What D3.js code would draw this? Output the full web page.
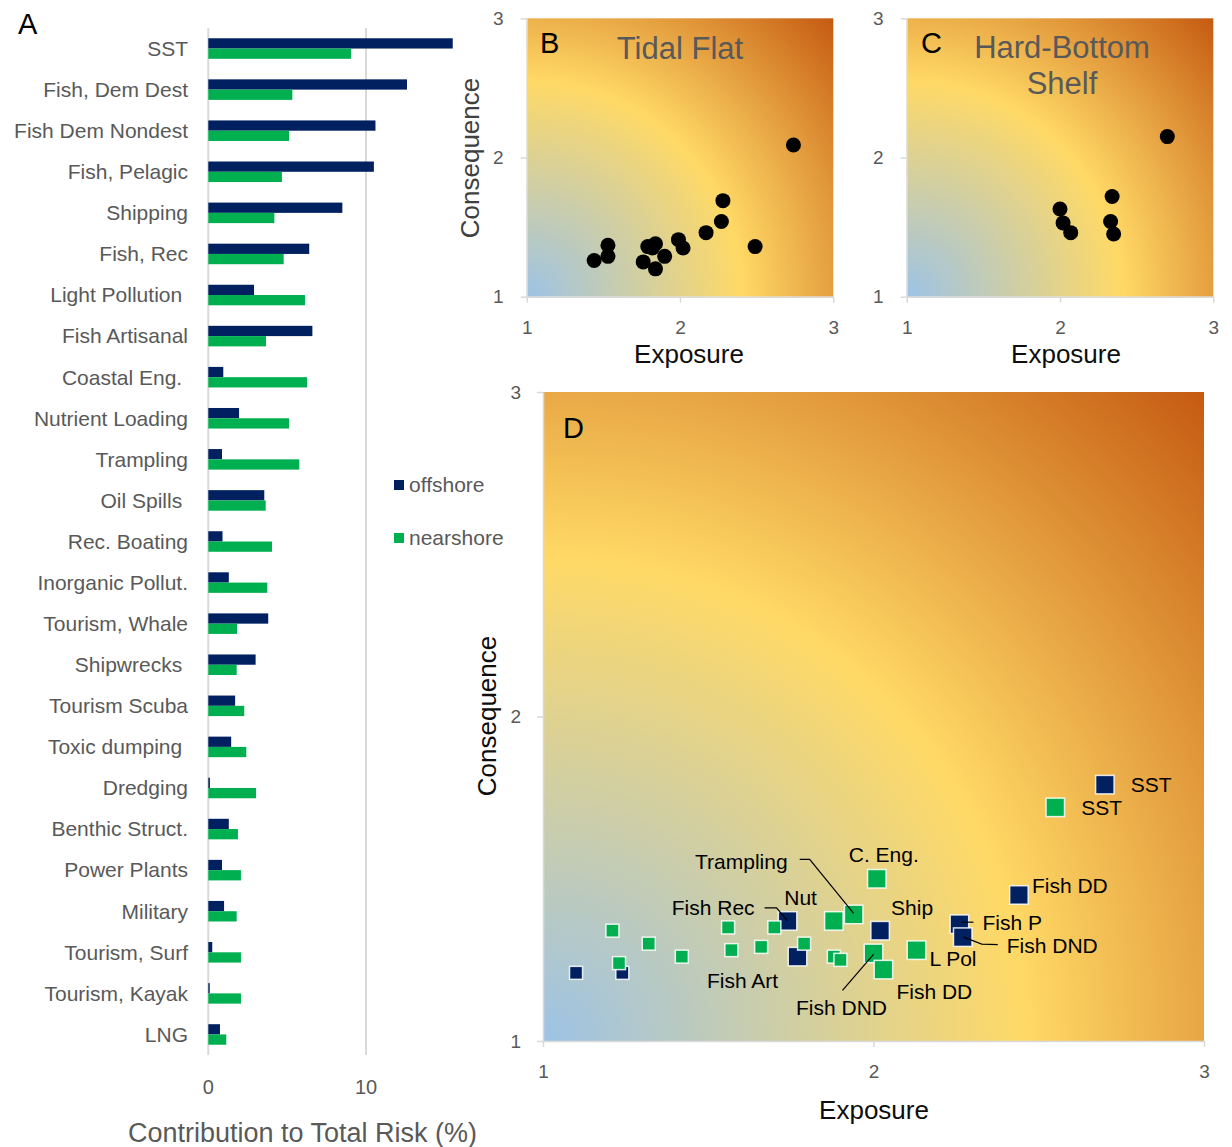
<!DOCTYPE html>
<html>
<head>
<meta charset="utf-8">
<script src="https://cdn.jsdelivr.net/npm/d3@7"></script>
<style>
  body { margin: 0; background: #fff; }
  text { font-family: "Liberation Sans", Arial, sans-serif; }
</style>
</head>
<body>
<div id="app"></div>
<script>
/* globals d3 */
// DATA
// panel A: contribution to total risk (%)
const categories = [
  'SST', 'Fish, Dem Dest', 'Fish Dem Nondest', 'Fish, Pelagic', 'Shipping',
  'Fish, Rec', 'Light Pollution ', 'Fish Artisanal', 'Coastal Eng. ', 'Nutrient Loading',
  'Trampling', 'Oil Spills ', 'Rec. Boating', 'Inorganic Pollut.', 'Tourism, Whale',
  'Shipwrecks ', 'Tourism Scuba', 'Toxic dumping ', 'Dredging', 'Benthic Struct.',
  'Power Plants', 'Military', 'Tourism, Surf', 'Tourism, Kayak', 'LNG'
];
const offshore = [
  15.5, 12.6, 10.6, 10.5, 8.5,
  6.4, 2.9, 6.6, 0.95, 1.95,
  0.87, 3.55, 0.9, 1.3, 3.8,
  3.0, 1.7, 1.45, 0.1, 1.3,
  0.87, 1.0, 0.25, 0.09, 0.74
];
const nearshore = [
  9.05, 5.33, 5.12, 4.67, 4.19,
  4.78, 6.13, 3.66, 6.26, 5.12,
  5.77, 3.64, 4.04, 3.74, 1.82,
  1.80, 2.28, 2.41, 3.03, 1.88,
  2.07, 1.80, 2.07, 2.07, 1.14
];
const seriesNames = ['offshore', 'nearshore'];
const riskTicks = [0, 10];

// panel B: tidal flat
const tidalExposure    = [2.74, 2.28, 2.27, 2.17, 2.49, 1.99, 2.02, 1.90, 1.84, 1.76, 1.79, 1.84, 1.82, 1.53, 1.53, 1.44];
const tidalConsequence = [2.09, 1.69, 1.54, 1.46, 1.36, 1.41, 1.35, 1.29, 1.20, 1.25, 1.36, 1.38, 1.35, 1.37, 1.29, 1.26];

// panel C: hard-bottom shelf
const shelfExposure    = [2.70, 2.34, 2.33, 2.35, 2.00, 2.02, 2.07];
const shelfConsequence = [2.15, 1.72, 1.54, 1.45, 1.63, 1.53, 1.46];

// panel D: offshore vs nearshore stressors
const dOffExposure     = [2.70, 2.44, 2.26, 2.27, 2.02, 1.74, 1.77, 1.10, 1.24];
const dOffConsequence  = [1.79, 1.45, 1.36, 1.32, 1.34, 1.37, 1.26, 1.21, 1.21];
const dNearExposure    = [2.55, 2.01, 1.94, 1.88, 2.00, 2.03, 2.13,
                          1.21, 1.32, 1.23, 1.42, 1.56, 1.57, 1.66, 1.70, 1.79, 1.88, 1.90];
const dNearConsequence = [1.72, 1.50, 1.39, 1.37, 1.27, 1.22, 1.28,
                          1.34, 1.30, 1.24, 1.26, 1.35, 1.28, 1.29, 1.35, 1.30, 1.26, 1.25];
const riskAxisTicks = [1, 2, 3];

// STYLE
const NAVY = '#002060';
const GREEN = '#00B050';
const GRID = '#D9D9D9';
const GRAY_TEXT = '#595959';

// marker size class for panel D (large = named stressors)
const offBig  = [1, 1, 1, 1, 1, 1, 1, 0, 0];
const nearBig = [1, 1, 1, 1, 1, 1, 1, 0, 0, 0, 0, 0, 0, 0, 0, 0, 0, 0];

// labels in panel D, offsets in px from the marker centre
const dNotes = [
  { s: 'off', i: 0, text: 'SST', dx: 26, dy: 0, anchor: 'start' },
  { s: 'off', i: 1, text: 'Fish DD', dx: 13, dy: -9, anchor: 'start' },
  { s: 'off', i: 2, text: 'Fish P', dx: 23, dy: -2, anchor: 'start', leader: [[2, -2], [14, -2]] },
  { s: 'off', i: 3, text: 'Fish DND', dx: 44, dy: 8, anchor: 'start', leader: [[1, 0], [19, 7], [35, 7.5]] },
  { s: 'off', i: 4, text: 'Ship', dx: 11, dy: -23, anchor: 'start' },
  { s: 'off', i: 5, text: 'Nut', dx: 13, dy: -23, anchor: 'middle' },
  { s: 'off', i: 5, text: 'Fish Rec', dx: -33, dy: -13, anchor: 'end', leader: [[0, 0], [-11, -13], [-23, -13]] },
  { s: 'off', i: 6, text: 'Fish Art', dx: -55, dy: 24, anchor: 'middle' },
  { s: 'near', i: 0, text: 'SST', dx: 26, dy: 0, anchor: 'start' },
  { s: 'near', i: 1, text: 'C. Eng.', dx: 7, dy: -24, anchor: 'middle' },
  { s: 'near', i: 2, text: 'Trampling', dx: -66, dy: -53, anchor: 'end', leader: [[0, -1], [-44, -55], [-54, -55]] },
  { s: 'near', i: 4, text: 'Fish DND', dx: -32, dy: 54, anchor: 'middle', leader: [[0, 1], [-31, 37]] },
  { s: 'near', i: 5, text: 'Fish DD', dx: 13, dy: 22, anchor: 'start' },
  { s: 'near', i: 6, text: 'L Pol', dx: 13, dy: 9, anchor: 'start' }
];

// SVG
const svg = d3.select('#app')
  .append('svg')
  .attr('width', 1232)
  .attr('height', 1147);

const defs = svg.append('defs');

function panelLetter(x, y, t) {
  svg.append('text')
    .attr('x', x).attr('y', y)
    .attr('font-size', 29)
    .attr('fill', '#000')
    .text(t);
}

// PANEL A
function renderBars() {
  const x = d3.scaleLinear().domain([0, 10]).range([208.3, 366]);
  const y = d3.scaleBand().domain(categories).range([28, 1055])
    .paddingInner(0.5).paddingOuter(0.25);
  const bw = y.bandwidth() / 2;
  const g = svg.append('g');

  g.selectAll('line.grid')
    .data(riskTicks)
    .enter()
      .append('line')
      .attr('x1', d => x(d)).attr('x2', d => x(d))
      .attr('y1', 28).attr('y2', 1055)
      .attr('stroke', GRID)
      .attr('stroke-width', 2);

  g.selectAll('rect.off')
    .data(offshore)
    .enter()
      .append('rect')
      .attr('x', x(0))
      .attr('y', (d, i) => y(categories[i]))
      .attr('width', d => x(d) - x(0))
      .attr('height', bw)
      .attr('fill', NAVY);

  g.selectAll('rect.near')
    .data(nearshore)
    .enter()
      .append('rect')
      .attr('x', x(0))
      .attr('y', (d, i) => y(categories[i]) + bw)
      .attr('width', d => x(d) - x(0))
      .attr('height', bw)
      .attr('fill', GREEN);

  g.selectAll('text.cat')
    .data(categories)
    .enter()
      .append('text')
      .attr('x', 188)
      .attr('y', d => y(d) + bw)
      .attr('dy', '0.35em')
      .attr('text-anchor', 'end')
      .attr('font-size', 21)
      .attr('fill', GRAY_TEXT)
      .style('white-space', 'pre')
      .text(d => d);

  g.selectAll('text.tick')
    .data(riskTicks)
    .enter()
      .append('text')
      .attr('x', d => x(d))
      .attr('y', 1094)
      .attr('text-anchor', 'middle')
      .attr('font-size', 20)
      .attr('fill', GRAY_TEXT)
      .text(d => d);

  g.append('text')
    .attr('x', 302.5).attr('y', 1142)
    .attr('text-anchor', 'middle')
    .attr('font-size', 27)
    .attr('fill', GRAY_TEXT)
    .text('Contribution to Total Risk (%)');

  // legend
  const leg = g.selectAll('g.leg')
    .data(seriesNames)
    .enter()
      .append('g')
      .attr('transform', (d, i) => `translate(394, ${485 + i * 53})`);
  leg.append('rect')
    .attr('x', 0).attr('y', -5)
    .attr('width', 10).attr('height', 10)
    .attr('fill', (d, i) => i === 0 ? NAVY : GREEN);
  leg.append('text')
    .attr('x', 15).attr('dy', '0.35em')
    .attr('font-size', 21)
    .attr('fill', GRAY_TEXT)
    .text(d => d);

  panelLetter(18, 34, 'A');
}

// SCATTER HELPERS
function riskGradient(id, x, y) {
  const [x0, x1] = x.range();
  const [y0, y1] = y.range(); // y0 is bottom
  const r = Math.hypot(x1 - x0, y0 - y1);
  const grad = defs.append('radialGradient')
    .attr('id', id)
    .attr('gradientUnits', 'userSpaceOnUse')
    .attr('cx', x0).attr('cy', y0)
    .attr('fx', x0).attr('fy', y0)
    .attr('r', r);
  [[0, '#9DC3E6'], [0.52, '#FFD966'], [1, '#C55A11']].forEach(([o, c]) => {
    grad.append('stop').attr('offset', o).attr('stop-color', c);
  });
  svg.append('rect')
    .attr('x', x0).attr('y', y1)
    .attr('width', x1 - x0).attr('height', y0 - y1)
    .attr('fill', `url(#${id})`);
}

function riskAxes(x, y, padLeft, padBottom) {
  const fmt = d3.format('d');
  const yAxis = svg.append('g')
    .attr('transform', `translate(${x.range()[0]},0)`)
    .call(d3.axisLeft(y).tickValues(riskAxisTicks).tickFormat(fmt)
      .tickSize(6).tickSizeOuter(0).tickPadding(padLeft));
  const xAxis = svg.append('g')
    .attr('transform', `translate(0,${y.range()[0]})`)
    .call(d3.axisBottom(x).tickValues(riskAxisTicks).tickFormat(fmt)
      .tickSize(6).tickSizeOuter(0).tickPadding(padBottom));
  [yAxis, xAxis].forEach(a => {
    a.selectAll('path, line').attr('stroke', GRID).attr('stroke-width', 1.5);
    a.selectAll('text')
      .attr('font-size', 19)
      .attr('fill', GRAY_TEXT)
      .style('font-family', '"Liberation Sans", Arial, sans-serif');
  });
}

function axisTitle(x, y, t, rotate, color) {
  svg.append('text')
    .attr('transform', `translate(${x},${y})` + (rotate ? ' rotate(-90)' : ''))
    .attr('text-anchor', 'middle')
    .attr('dy', '0.35em')
    .attr('font-size', 26)
    .attr('fill', color)
    .text(t);
}

function renderDots(x, y, ex, co) {
  svg.append('g')
    .selectAll('circle')
    .data(ex)
    .enter()
      .append('circle')
      .attr('cx', d => x(d))
      .attr('cy', (d, i) => y(co[i]))
      .attr('r', 7.5)
      .attr('fill', '#000');
}

// PANEL B
function renderTidal() {
  const x = d3.scaleLinear().domain([1, 3]).range([526.7, 833.3]);
  const y = d3.scaleLinear().domain([1, 3]).range([296.7, 18.3]);
  riskGradient('gradB', x, y);
  riskAxes(x, y, 17, 18);
  renderDots(x, y, tidalExposure, tidalConsequence);
  svg.append('text')
    .attr('x', 680).attr('y', 59)
    .attr('text-anchor', 'middle')
    .attr('font-size', 31)
    .attr('fill', GRAY_TEXT)
    .text('Tidal Flat');
  axisTitle(470, 158, 'Consequence', true, '#404040');
  axisTitle(689, 354, 'Exposure', false, '#0D0D0D');
  panelLetter(540, 53, 'B');
}

// PANEL C
function renderShelf() {
  const x = d3.scaleLinear().domain([1, 3]).range([906.7, 1213.3]);
  const y = d3.scaleLinear().domain([1, 3]).range([296.7, 18.3]);
  riskGradient('gradC', x, y);
  riskAxes(x, y, 17, 18);
  renderDots(x, y, shelfExposure, shelfConsequence);
  svg.append('text')
    .attr('x', 1062).attr('text-anchor', 'middle')
    .attr('font-size', 31)
    .attr('fill', GRAY_TEXT)
    .selectAll('tspan')
    .data(['Hard-Bottom', 'Shelf'])
    .enter()
      .append('tspan')
      .attr('x', 1062)
      .attr('y', (d, i) => 58 + i * 36)
      .text(d => d);
  axisTitle(1066, 354, 'Exposure', false, '#0D0D0D');
  panelLetter(921, 53, 'C');
}

// PANEL D
function renderCombined() {
  const x = d3.scaleLinear().domain([1, 3]).range([543, 1204]);
  const y = d3.scaleLinear().domain([1, 3]).range([1041, 392]);
  riskGradient('gradD', x, y);
  riskAxes(x, y, 16, 18);

  const series = {
    off: { ex: dOffExposure, co: dOffConsequence, big: offBig, fill: NAVY },
    near: { ex: dNearExposure, co: dNearConsequence, big: nearBig, fill: GREEN }
  };

  ['off', 'near'].forEach(k => {
    const s = series[k];
    svg.append('g')
      .selectAll('rect')
      .data(s.ex)
      .enter()
        .append('rect')
        .each(function(d, i) {
          const size = s.big[i] ? 18.5 : 13;
          d3.select(this)
            .attr('x', x(d) - size / 2)
            .attr('y', y(s.co[i]) - size / 2)
            .attr('width', size)
            .attr('height', size);
        })
        .attr('fill', s.fill)
        .attr('stroke', '#fff')
        .attr('stroke-opacity', 0.85)
        .attr('stroke-width', 1.5);
  });

  const notes = svg.append('g');
  dNotes.forEach(n => {
    const s = series[n.s];
    const px = x(s.ex[n.i]);
    const py = y(s.co[n.i]);
    if (n.leader) {
      notes.append('path')
        .attr('d', d3.line()(n.leader.map(([a, b]) => [px + a, py + b])))
        .attr('fill', 'none')
        .attr('stroke', '#000')
        .attr('stroke-width', 1.2);
    }
    notes.append('text')
      .attr('x', px + n.dx)
      .attr('y', py + n.dy)
      .attr('dy', '0.35em')
      .attr('text-anchor', n.anchor)
      .attr('font-size', 21)
      .attr('fill', '#000')
      .text(n.text);
  });

  axisTitle(487, 716, 'Consequence', true, '#0D0D0D');
  axisTitle(874, 1110, 'Exposure', false, '#0D0D0D');
  panelLetter(563, 438, 'D');
}

renderBars();
renderTidal();
renderShelf();
renderCombined();
</script>
</body>
</html>
